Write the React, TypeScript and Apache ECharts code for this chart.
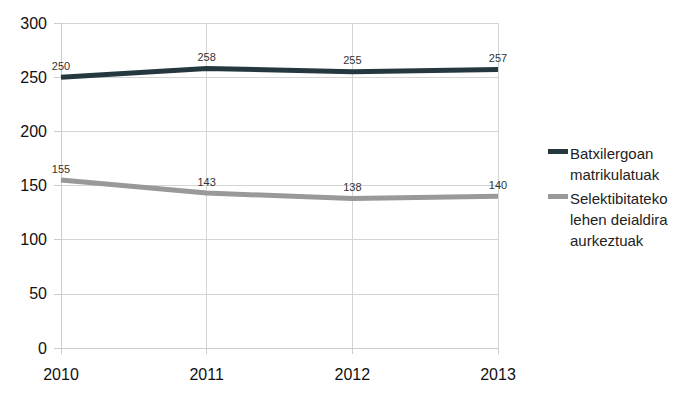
import React, { useEffect, useRef } from "react";
import * as echarts from "echarts";

const years = ["2010", "2011", "2012", "2013"];
const matrikulatuak = [250, 258, 255, 257];
const aurkeztuak = [155, 143, 138, 140];
const seriesNames = ["Batxilergoan\nmatrikulatuak", "Selektibitateko\nlehen deialdira\naurkeztuak"];
const seriesColors = ["#26383f", "#999999"];

export default function App() {
  const ref = useRef<HTMLDivElement>(null);
  useEffect(() => {
    if (!ref.current) return;
    const chart = echarts.init(ref.current, null, { renderer: "svg" });
    const font = "'Liberation Sans', Arial, sans-serif";
    const legendItems: any[] = [];
    const legendTops = [151, 196];
    seriesNames.forEach((n, i) => {
      legendItems.push({
        type: "rect",
        left: 548,
        top: legendTops[i] - 2,
        shape: { width: 20, height: 5 },
        style: { fill: seriesColors[i] },
      });
      legendItems.push({
        type: "text",
        left: 570,
        top: legendTops[i] - 8,
        style: { text: n, fill: "#222", font: `15px ${font}`, lineHeight: 21 },
      });
    });
    chart.setOption({
      animation: false,
      backgroundColor: "#ffffff",
      textStyle: { fontFamily: font },
      grid: { left: 61, right: 202, top: 23, bottom: 51 },
      xAxis: {
        type: "category",
        data: years,
        boundaryGap: false,
        axisLine: { lineStyle: { color: "#cccccc" } },
        axisTick: { show: true, length: 6, lineStyle: { color: "#cccccc" } },
        axisLabel: { color: "#111", fontSize: 16, margin: 18, fontFamily: font },
        splitLine: { show: true, lineStyle: { color: "#d4d4d4" } },
      },
      yAxis: {
        type: "value",
        min: 0,
        max: 300,
        interval: 50,
        axisLine: { show: true, lineStyle: { color: "#cccccc" } },
        axisTick: { show: true, length: 7, lineStyle: { color: "#cccccc" } },
        axisLabel: { color: "#111", fontSize: 16, margin: 14, fontFamily: font },
        splitLine: { show: true, lineStyle: { color: "#d4d4d4" } },
      },
      series: [
        {
          name: seriesNames[0],
          type: "line",
          data: matrikulatuak,
          symbol: "circle",
          symbolSize: 0.1,
          lineStyle: { width: 5, color: seriesColors[0] },
          itemStyle: { color: seriesColors[0] },
          label: { show: true, position: "top", distance: 6, color: "#333", fontSize: 11, fontFamily: font },
        },
        {
          name: seriesNames[1],
          type: "line",
          data: aurkeztuak,
          symbol: "circle",
          symbolSize: 0.1,
          lineStyle: { width: 5, color: seriesColors[1] },
          itemStyle: { color: seriesColors[1] },
          label: { show: true, position: "top", distance: 6, color: "#333", fontSize: 11, fontFamily: font },
        },
      ],
      graphic: legendItems,
    });
    return () => chart.dispose();
  }, []);
  return <div ref={ref} style={{ width: 700, height: 399, position: "absolute", left: 0, top: 0 }} />;
}
